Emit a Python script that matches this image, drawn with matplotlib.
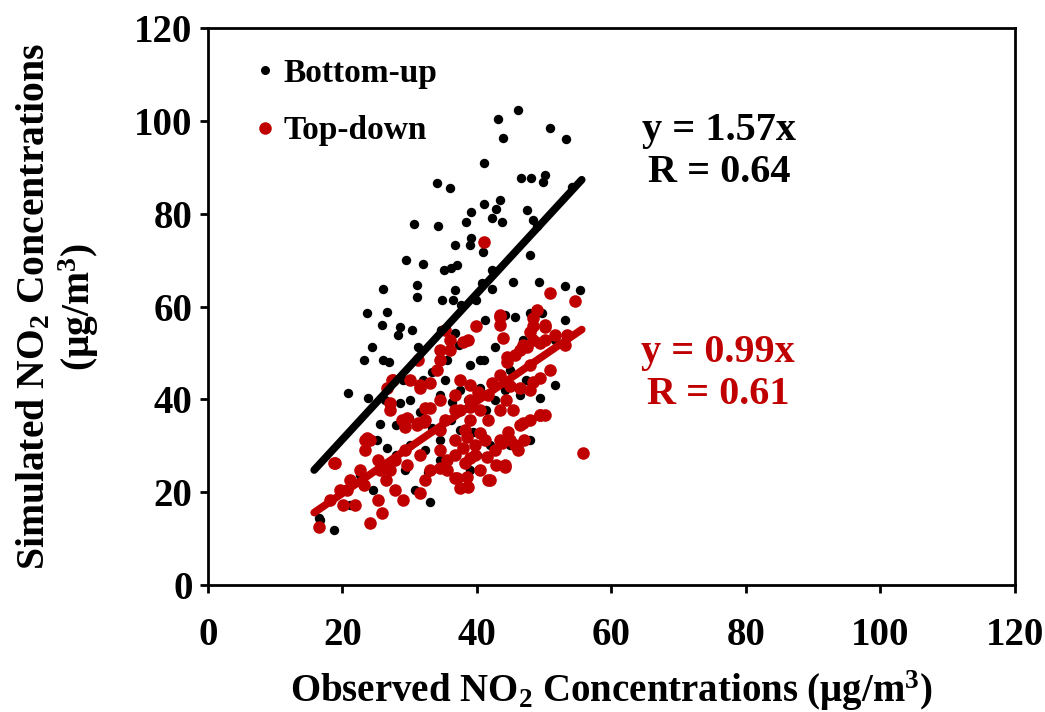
import matplotlib
matplotlib.use("Agg")
import matplotlib.pyplot as plt
from matplotlib.lines import Line2D

# ---------------- data ----------------
bu_x = [46.1, 43.2, 50.9, 43.9, 53.2, 41.0, 34.1, 36.0, 46.5, 48.0, 50.1, 49.8, 54.1, 43.4,
        30.6, 41.0, 39.1, 38.4, 42.9, 42.3, 47.4, 48.3, 48.9, 34.2, 36.7, 39.2, 43.7, 39.0,
        40.9, 36.2, 37.1, 35.1, 32.0, 29.4, 42.3, 47.9, 36.7, 40.7, 42.3, 45.4, 49.2, 23.6,
        26.1, 26.6, 31.1, 31.1, 34.8, 36.4, 37.6, 39.9, 41.2, 44.2, 45.7, 49.7, 53.1, 55.3,
        47.9, 53.1, 25.9, 28.6, 28.2, 30.4, 31.3, 34.6, 36.7, 37.4, 38.9, 41.0, 42.7, 46.8,
        51.6, 23.2, 24.4, 26.0, 27.0, 29.0, 31.2, 32.0, 33.3, 35.5, 39.0, 40.4, 44.9, 47.3,
        44.2, 20.8, 23.8, 26.3, 28.6, 30.0, 29.9, 31.5, 34.5, 36.3, 41.3, 42.7, 49.4, 25.6,
        28.0, 33.3, 39.4, 40.0, 29.3, 32.7, 30.8, 33.0, 39.0, 16.5, 18.7, 21.9, 24.5, 22.6,
        25.2, 16.7, 21.1, 34.5, 36.2, 37.5, 34.5, 40.7, 42.0, 44.9, 47.9, 30.0, 32.3, 28.0,
        26.6, 35.2, 37.5, 38.7, 40.5, 46.4, 51.6]
bu_y = [102.2, 100.4, 98.4, 96.2, 96.1, 90.9, 86.6, 85.5, 87.7, 87.7, 88.3, 86.8, 85.7, 82.9,
        77.8, 82.1, 80.4, 78.2, 81.0, 79.1, 80.8, 78.6, 77.3, 77.3, 73.2, 74.7, 78.2, 73.2,
        71.7, 68.3, 69.0, 67.9, 69.2, 70.0, 67.9, 71.1, 63.6, 65.1, 63.8, 65.3, 65.3, 58.6,
        63.8, 58.8, 64.6, 62.0, 61.4, 61.4, 60.3, 61.4, 57.1, 58.2, 57.7, 58.6, 64.4, 63.6,
        58.6, 57.1, 56.0, 55.6, 53.9, 54.9, 51.3, 54.9, 54.3, 51.7, 52.8, 48.5, 51.3, 52.8,
        52.8, 48.5, 51.3, 48.5, 48.0, 44.2, 48.5, 44.2, 45.9, 48.5, 47.4, 48.5, 46.3, 44.2,
        42.0, 41.4, 40.3, 39.9, 39.2, 39.9, 36.0, 37.3, 40.9, 39.4, 37.7, 39.9, 40.3, 34.7,
        34.5, 33.8, 33.0, 28.0, 24.8, 24.3, 20.5, 17.9, 24.8, 14.4, 11.8, 17.2, 20.5, 23.7,
        31.2, 14.0, 17.2, 31.2, 35.5, 33.4, 26.9, 32.3, 30.2, 30.2, 31.2, 30.2, 29.1, 28.0,
        29.5, 44.2, 42.0, 39.9, 42.4, 40.9, 43.1]

td_x = [41.0, 50.9, 54.6, 55.8, 16.5, 18.7, 20.7, 20.1, 21.9, 23.2, 23.3, 24.1, 24.1, 25.3,
        25.9, 26.5, 27.1, 25.6, 29.6, 27.8, 29.0, 31.5, 32.3, 33.0, 34.5, 35.5, 36.7, 37.5,
        38.2, 39.7, 41.2, 41.6, 42.9, 44.2, 44.9, 45.7, 46.4, 47.9, 49.4, 29.6, 31.1, 32.2,
        33.0, 34.5, 36.7, 37.5, 39.0, 40.1, 41.6, 42.3, 43.4, 44.5, 45.7, 46.8, 48.3, 50.1,
        51.6, 53.4, 53.1, 50.1, 48.3, 48.9, 43.4, 43.4, 46.4, 39.9, 38.7, 36.0, 35.2, 34.5,
        34.5, 31.2, 30.0, 27.5, 27.1, 33.0, 31.5, 32.3, 37.5, 39.0, 40.5, 41.6, 43.4, 44.3,
        46.4, 47.9, 49.4, 50.9, 47.9, 44.9, 39.0, 36.7, 35.2, 34.5, 36.7, 38.2, 39.7, 43.4,
        47.0, 50.1, 42.7, 39.0, 36.7, 34.5, 31.5, 29.3, 27.8, 25.3, 22.6, 21.1, 19.6, 18.1,
        27.4, 26.6, 27.1, 23.6, 23.3, 18.9, 31.5, 32.3, 31.2, 29.3, 28.8, 43.4, 48.3, 50.1,
        47.9, 43.9, 49.4, 47.4, 44.5, 37.9, 36.0, 34.1, 48.3, 49.4, 46.8, 45.4, 44.6, 46.1,
        43.7, 44.2, 41.9, 38.5, 38.7, 37.0, 35.5, 41.5, 40.4, 37.9, 40.4, 38.5, 39.0]
td_y = [73.9, 62.9, 61.2, 28.4, 12.5, 26.3, 20.5, 17.2, 17.2, 21.5, 31.2, 31.2, 13.4, 18.3,
        15.5, 22.6, 24.8, 24.8, 25.9, 20.5, 18.3, 19.8, 22.6, 24.8, 25.2, 26.9, 23.1, 20.9,
        26.3, 28.0, 31.2, 22.6, 25.9, 25.9, 31.2, 30.2, 34.5, 35.5, 36.6, 36.0, 34.5, 35.1,
        38.1, 39.9, 40.9, 44.2, 43.1, 41.6, 40.9, 43.5, 45.2, 48.0, 49.5, 51.7, 52.8, 52.8,
        53.9, 53.9, 51.7, 56.0, 55.8, 59.2, 57.7, 56.0, 50.6, 55.8, 52.8, 52.8, 54.9, 50.6,
        48.5, 48.5, 44.2, 44.2, 39.2, 43.5, 42.4, 35.5, 37.7, 35.5, 37.7, 35.5, 37.7, 39.9,
        42.4, 42.0, 44.6, 46.3, 47.4, 42.9, 39.9, 37.7, 35.5, 33.4, 31.2, 33.4, 30.2, 31.2,
        31.2, 36.6, 29.1, 27.4, 28.0, 29.1, 28.0, 29.1, 26.9, 26.9, 24.8, 22.6, 20.5, 18.3,
        44.2, 42.4, 37.7, 31.7, 29.1, 26.3, 43.1, 38.1, 34.9, 34.0, 35.5, 58.2, 57.5, 55.6,
        54.5, 53.2, 52.1, 51.3, 49.1, 52.3, 50.6, 46.3, 43.7, 36.6, 34.9, 37.7, 33.0, 29.1,
        30.6, 25.4, 22.6, 23.3, 21.1, 23.1, 24.8, 27.6, 24.8, 29.5, 32.7, 31.9, 38.3]

bu_slope, bu_r = 1.57, 0.64
td_slope, td_r = 0.99, 0.61
fit_x_range = [15.8, 55.6]

x_ticks = [0, 20, 40, 60, 80, 100, 120]
y_ticks = [0, 20, 40, 60, 80, 100, 120]

BLACK = "#000000"
RED = "#C00000"

plt.rcParams['font.family'] = ['Liberation Serif', 'DejaVu Serif']
plt.rcParams['font.weight'] = 'bold'
plt.rcParams['axes.labelweight'] = 'bold'
plt.rcParams['mathtext.fontset'] = 'custom'
plt.rcParams['mathtext.rm'] = 'Liberation Serif:bold'
plt.rcParams['mathtext.bf'] = 'Liberation Serif:bold'
plt.rcParams['mathtext.default'] = 'bf'

fig = plt.figure(figsize=(10.45, 7.12), dpi=100)
ax = fig.add_axes([0.199, 0.178, 0.772, 0.783])

ax.scatter(bu_x, bu_y, s=46, color=BLACK, linewidths=0, zorder=2)
ax.scatter(td_x, td_y, s=82, color=RED, linewidths=0, zorder=3)
ax.plot(fit_x_range, [bu_slope * v for v in fit_x_range], color=BLACK, lw=5.5,
        solid_capstyle='round', zorder=4)
ax.plot(fit_x_range, [td_slope * v for v in fit_x_range], color=RED, lw=5.5,
        solid_capstyle='round', zorder=5)

ax.set_xlim(0, 120)
ax.set_ylim(0, 120)
ax.set_xticks(x_ticks)
ax.set_yticks(y_ticks)
ax.set_xticklabels([str(t) for t in x_ticks])
ax.set_yticklabels([str(t) for t in y_ticks])
for sp in ax.spines.values():
    sp.set_linewidth(2.0)
ax.tick_params(axis='both', direction='out', length=6, width=2.0, labelsize=28)
ax.tick_params(axis='x', pad=17)
ax.tick_params(axis='y', pad=5)

ax.set_xlabel(r'Observed NO$_2$ Concentrations (μg/m$^3$)', fontsize=28,
              fontweight='bold', labelpad=10)
ax.set_ylabel('Simulated NO$_2$ Concentrations\n(μg/m$^3$)', fontsize=28.5,
              fontweight='bold', labelpad=24, linespacing=1.1)

ax.text(0.634, 0.778, f'y = {bu_slope:.2f}x\nR = {bu_r:.2f}', transform=ax.transAxes,
        ha='center', va='center', fontsize=29, color=BLACK, linespacing=1.2)
ax.text(0.632, 0.380, f'y = {td_slope:.2f}x\nR = {td_r:.2f}', transform=ax.transAxes,
        ha='center', va='center', fontsize=29, color=RED, linespacing=1.2)

handles = [Line2D([], [], ls='none', marker='o', ms=6.5, color=BLACK, mec='none'),
           Line2D([], [], ls='none', marker='o', ms=9, color=RED, mec='none')]
ax.legend(handles, ['Bottom-up', 'Top-down'], loc='upper left', bbox_to_anchor=(0.013, 1.0),
          frameon=False, fontsize=24, handletextpad=0.05, handlelength=1.0,
          labelspacing=0.8)

fig.savefig('out.png', dpi=100)
